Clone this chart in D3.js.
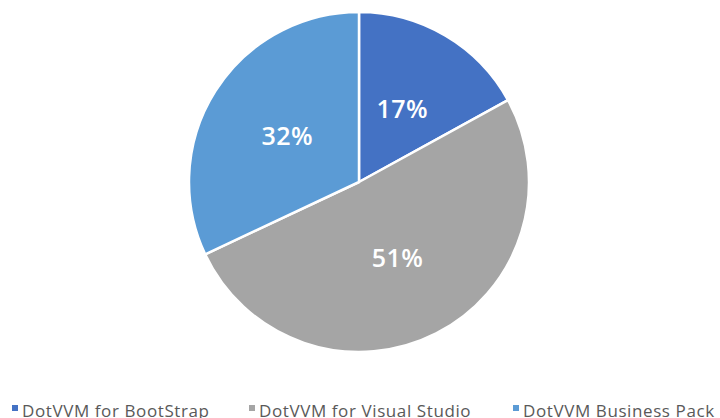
<!DOCTYPE html>
<html>
<head>
<meta charset="utf-8">
<script src="https://cdn.jsdelivr.net/npm/d3@7"></script>
<style>
  body { margin: 0; background: #fff; }
  svg { display: block; font-family: "Open Sans", "DejaVu Sans", sans-serif; }
</style>
</head>
<body>
<div id="chart"></div>
<script>
// data
const categories = ["DotVVM for BootStrap", "DotVVM for Visual Studio", "DotVVM Business Pack"];
const values = [17, 51, 32];
const colors = ["#4472C4", "#A5A5A5", "#5B9BD5"];
const legendX = [12, 249, 513];

const W = 720, H = 418;
const cx = 359, cy = 182, r = 170;

const svg = d3.select("#chart").append("svg")
    .attr("width", W).attr("height", H);

const pie = d3.pie().sort(null).value(d => d);
const arcs = pie(values);
const arc = d3.arc().innerRadius(0).outerRadius(r);
const labelArc = d3.arc().innerRadius(r * 0.5).outerRadius(r * 0.5);

const g = svg.append("g").attr("transform", `translate(${cx},${cy})`);

g.selectAll("path.slice").data(arcs).enter().append("path")
    .attr("class", "slice")
    .attr("d", arc)
    .attr("fill", (d, i) => colors[i])
    .attr("stroke", "#fff")
    .attr("stroke-width", 2.5)
    .attr("stroke-linejoin", "round");

const total = d3.sum(values);
g.selectAll("text.lbl").data(arcs).enter().append("text")
    .attr("class", "lbl")
    .attr("transform", d => `translate(${labelArc.centroid(d)})`)
    .attr("text-anchor", "middle")
    .attr("dy", "0.36em")
    .attr("fill", "#fff")
    .attr("font-size", 25)
    .attr("font-weight", 600)
    .attr("letter-spacing", 0.5)
    .text(d => Math.round(d.data / total * 100) + "%");

// legend (runs off the bottom like the original)
const leg = svg.append("g").selectAll("g").data(categories).enter().append("g")
    .attr("transform", (d, i) => `translate(${legendX[i]},0)`);
leg.append("rect")
    .attr("x", 0).attr("y", 405)
    .attr("width", 6).attr("height", 6)
    .attr("fill", (d, i) => colors[i]);
leg.append("text")
    .attr("x", 10).attr("y", 417)
    .attr("fill", "#595959")
    .attr("font-size", 17)
    .attr("letter-spacing", 0.6)
    .text(d => d);
</script>
</body>
</html>
